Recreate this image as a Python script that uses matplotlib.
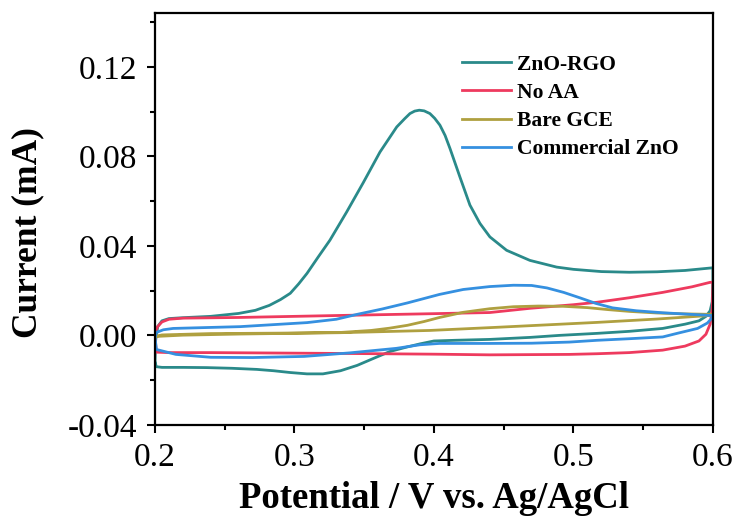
import matplotlib
matplotlib.use("Agg")
import matplotlib.pyplot as plt
from matplotlib.ticker import MultipleLocator

# CV curves: forward scan 0.2 -> 0.6 V, then back to 0.2 V
rgo_v = [0.200, 0.2005, 0.202, 0.205, 0.210, 0.220, 0.240, 0.260, 0.272, 0.282, 0.290, 0.297,
         0.303, 0.309, 0.317, 0.3254, 0.3374, 0.3493, 0.3613, 0.3733, 0.3790, 0.3828, 0.3862, 0.3895,
         0.3930, 0.3971, 0.4005, 0.4043, 0.4080, 0.4115, 0.4186, 0.4258, 0.4330, 0.4401, 0.4521, 0.4688,
         0.488, 0.500, 0.520, 0.540, 0.560, 0.580, 0.600,
         0.600, 0.5995, 0.598, 0.595, 0.590, 0.580, 0.564, 0.540, 0.517, 0.490, 0.469, 0.440,
         0.415, 0.400, 0.390, 0.380, 0.3685, 0.357, 0.345, 0.333, 0.3204, 0.309, 0.297, 0.285,
         0.273, 0.255, 0.237, 0.220, 0.205, 0.201, 0.200]
rgo_i = [-0.012, -0.002, 0.004, 0.0065, 0.0075, 0.0079, 0.0085, 0.0098, 0.0112, 0.0134, 0.016, 0.0188,
         0.023, 0.0277, 0.035, 0.0425, 0.0551, 0.0682, 0.0819, 0.0931, 0.0968, 0.0991, 0.1002, 0.1006,
         0.1003, 0.0991, 0.0970, 0.0939, 0.0893, 0.0835, 0.0708, 0.0582, 0.050, 0.044, 0.038, 0.0335,
         0.0305, 0.0295, 0.0285, 0.0282, 0.0284, 0.029, 0.0302,
         0.025, 0.015, 0.011, 0.0085, 0.0065, 0.005, 0.0031, 0.0018, 0.0009, 0.0, -0.0009, -0.0018,
         -0.0022, -0.0025, -0.0038, -0.0053, -0.0072, -0.0102, -0.0134, -0.0158, -0.0172, -0.0172, -0.0166, -0.0158,
         -0.0152, -0.0147, -0.0144, -0.0143, -0.0143, -0.014, -0.012]

noaa_v = [0.200, 0.2005, 0.202, 0.205, 0.210, 0.220, 0.260, 0.333, 0.400, 0.440, 0.469, 0.500,
          0.517, 0.540, 0.564, 0.585, 0.598, 0.600,
          0.5995, 0.598, 0.595, 0.590, 0.580, 0.564, 0.540, 0.517, 0.497, 0.440, 0.400, 0.340,
          0.290, 0.240, 0.210, 0.201, 0.200]
noaa_i = [-0.0005, 0.002, 0.004, 0.006, 0.0072, 0.0077, 0.008, 0.0089, 0.0097, 0.0102, 0.0121, 0.0137,
          0.0148, 0.0168, 0.0192, 0.0217, 0.0237, 0.0237,
          0.012, 0.005, 0.0005, -0.0025, -0.0048, -0.0066, -0.0077, -0.0082, -0.0085, -0.0087, -0.0084, -0.0081,
          -0.0079, -0.0077, -0.0077, -0.0075, -0.0005]

gce_v = [0.200, 0.205, 0.240, 0.290, 0.333, 0.355, 0.368, 0.381, 0.393, 0.404, 0.421, 0.440,
         0.457, 0.475, 0.4925, 0.510, 0.525, 0.5405, 0.560, 0.580, 0.598, 0.600,
         0.598, 0.560, 0.517, 0.445, 0.397, 0.333, 0.261, 0.220, 0.200]
gce_i = [-0.0005, 0.0002, 0.0008, 0.001, 0.0013, 0.0022, 0.0032, 0.0045, 0.0062, 0.008, 0.0103, 0.0119,
         0.0128, 0.0131, 0.013, 0.0124, 0.0115, 0.0107, 0.010, 0.0096, 0.0094, 0.0092,
         0.0089, 0.0073, 0.0058, 0.0036, 0.0022, 0.0012, 0.0006, 0.0001, -0.0005]

com_v = [0.200, 0.201, 0.206, 0.213, 0.261, 0.309, 0.330, 0.345, 0.363, 0.381, 0.404, 0.421,
         0.440, 0.457, 0.470, 0.481, 0.493, 0.505, 0.516, 0.528, 0.545, 0.564, 0.598, 0.600,
         0.599, 0.596, 0.589, 0.575, 0.564, 0.540, 0.517, 0.497, 0.470, 0.440, 0.404, 0.390,
         0.373, 0.340, 0.307, 0.270, 0.240, 0.215, 0.201, 0.200]
com_i = [-0.0005, 0.0013, 0.0025, 0.0031, 0.0039, 0.0057, 0.0072, 0.0094, 0.0118, 0.0145, 0.0183, 0.0205,
         0.0218, 0.0224, 0.0223, 0.0212, 0.0192, 0.0167, 0.0143, 0.0123, 0.011, 0.0101, 0.0089, 0.0089,
         0.0075, 0.0055, 0.0031, 0.001, -0.0007, -0.0015, -0.0022, -0.0030, -0.0035, -0.0036, -0.0036, -0.0042,
         -0.0058, -0.0078, -0.0094, -0.0099, -0.0098, -0.0085, -0.0063, -0.0005]

labels = ["ZnO-RGO", "No AA", "Bare GCE", "Commercial ZnO"]
colors = ["#2A8A8A", "#EE3A5E", "#AFA040", "#3590E0"]

plt.rcParams["font.family"] = ["Liberation Serif", "DejaVu Serif"]

fig = plt.figure(figsize=(7.38, 5.22), dpi=100)
ax = fig.add_axes([0.210, 0.186, 0.756, 0.789])

series = [(rgo_v, rgo_i), (noaa_v, noaa_i), (gce_v, gce_i), (com_v, com_i)]
for (v, i), lab, c in zip(series, labels, colors):
    ax.plot(v, i, color=c, lw=2.0, label=lab, solid_joinstyle="round")

ax.set_xlim(0.2, 0.6)
ax.set_ylim(-0.04, 0.144)
ax.xaxis.set_minor_locator(MultipleLocator(0.05))
ax.yaxis.set_minor_locator(MultipleLocator(0.02))
ax.set_xticks([0.2, 0.3, 0.4, 0.5, 0.6])
ax.set_xticklabels(["0.2", "0.3", "0.4", "0.5", "0.6"])
ax.set_yticks([-0.04, 0.0, 0.04, 0.08, 0.12])
ax.set_yticklabels(["-0.04", "0.00", "0.04", "0.08", "0.12"])

ax.tick_params(which="major", direction="out", length=6, width=1.5, labelsize=24, pad=7)
ax.tick_params(which="minor", direction="out", length=3.5, width=1.5)
for s in ax.spines.values():
    s.set_linewidth(1.6)

ax.set_xlabel("Potential / V vs. Ag/AgCl", fontsize=26.5, fontweight="bold")
ax.set_ylabel("Current (mA)", fontsize=25.5, fontweight="bold")
ax.xaxis.set_label_coords(0.5, -0.135)
ax.yaxis.set_label_coords(-0.199, 0.466)

ax.legend(loc="upper left", bbox_to_anchor=(0.534, 0.92), frameon=False,
          prop={"weight": "bold", "size": 15.5}, handlelength=2.3, handletextpad=0.3,
          labelspacing=0.38, borderaxespad=0)

fig.savefig("out.png", dpi=100)
